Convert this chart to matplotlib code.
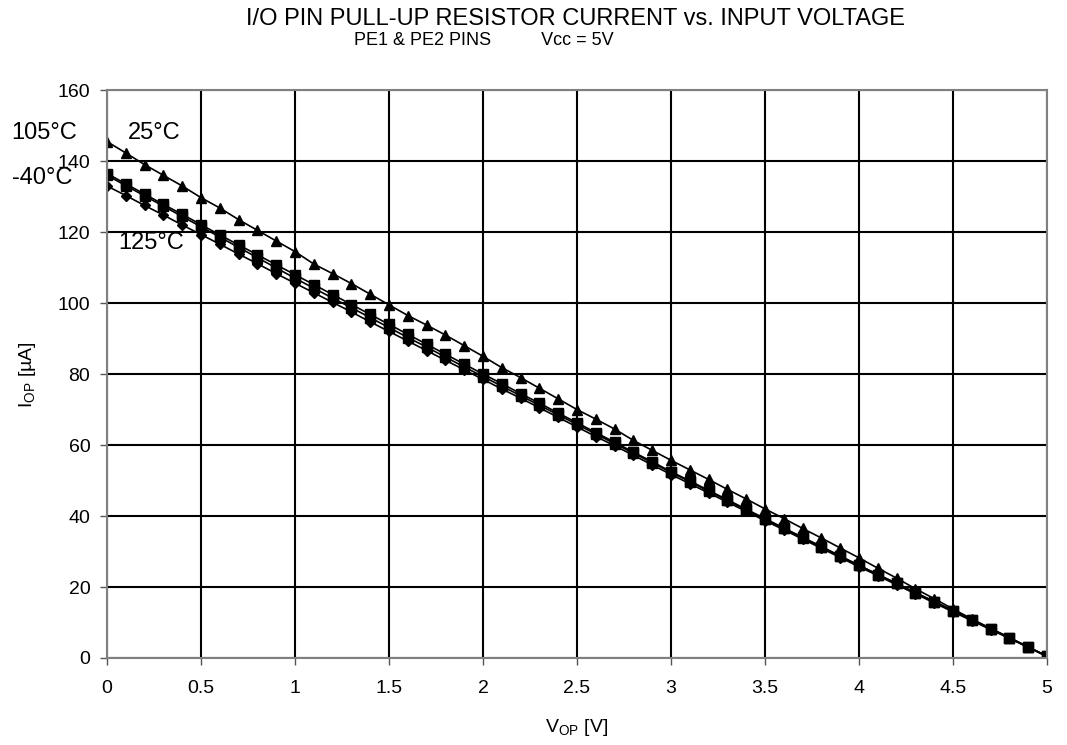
import matplotlib
matplotlib.use('Agg')
import matplotlib.pyplot as plt
import numpy as np

plt.rcParams['font.family'] = ['Liberation Sans', 'DejaVu Sans']
plt.rcParams['mathtext.fontset'] = 'custom'
plt.rcParams['mathtext.rm'] = 'Liberation Sans'

# input voltage, 0 .. 5 V in 0.1 V steps
vop = [round(i * 0.1, 1) for i in range(51)]

i_25 = [145.5, 142.3, 139.0, 136.0, 133.0, 129.7, 126.8, 123.5, 120.5, 117.5,
        114.5, 111.0, 108.3, 105.5, 102.5, 99.5, 96.5, 93.8, 91.0, 88.0,
        85.0, 81.8, 79.0, 76.0, 73.0, 70.0, 67.3, 64.5, 61.3, 58.5,
        55.7, 53.0, 50.3, 47.5, 44.8, 42.0, 39.3, 36.5, 33.8, 31.0,
        28.2, 25.3, 22.5, 19.5, 16.7, 13.8, 11.0, 8.3, 5.7, 3.0, 0.5]
i_105 = [136.5, 133.6, 130.7, 127.8, 125.0, 122.1, 119.2, 116.4, 113.6, 110.8,
         108.0, 105.2, 102.4, 99.6, 96.8, 94.0, 91.2, 88.4, 85.6, 82.8,
         80.0, 77.3, 74.5, 71.8, 69.0, 66.3, 63.5, 60.8, 58.0, 55.3,
         52.5, 49.9, 47.2, 44.6, 41.9, 39.3, 36.6, 34.0, 31.4, 28.7,
         26.1, 23.5, 21.0, 18.4, 15.9, 13.3, 10.8, 8.3, 5.7, 3.1, 0.5]
i_m40 = [136.0, 133.1, 130.2, 127.3, 124.4, 121.5, 118.6, 115.7, 112.8, 109.9,
         107.0, 104.2, 101.4, 98.7, 95.9, 93.1, 90.3, 87.6, 84.8, 82.0,
         79.3, 76.6, 73.9, 71.2, 68.5, 65.8, 63.1, 60.4, 57.7, 55.0,
         52.3, 49.7, 47.0, 44.4, 41.7, 39.1, 36.5, 33.9, 31.3, 28.7,
         26.1, 23.5, 21.0, 18.4, 15.9, 13.3, 10.8, 8.3, 5.7, 3.1, 0.5]
i_125 = [133.0, 130.3, 127.5, 124.8, 122.0, 119.3, 116.6, 113.8, 111.1, 108.3,
         105.6, 102.9, 100.2, 97.5, 94.7, 92.0, 89.3, 86.6, 83.9, 81.2,
         78.5, 75.8, 73.2, 70.5, 67.8, 65.1, 62.4, 59.8, 57.1, 54.4,
         51.7, 49.1, 46.5, 43.9, 41.3, 38.7, 36.1, 33.5, 30.9, 28.3,
         25.7, 23.2, 20.6, 18.1, 15.5, 13.0, 10.5, 8.0, 5.5, 3.0, 0.4]

xticks = [0, 0.5, 1, 1.5, 2, 2.5, 3, 3.5, 4, 4.5, 5]
xticklabels = ['0', '0.5', '1', '1.5', '2', '2.5', '3', '3.5', '4', '4.5', '5']
yticks = [0, 20, 40, 60, 80, 100, 120, 140, 160]

fig = plt.figure(figsize=(10.67, 7.45), dpi=100)
ax = fig.add_axes([0.1003, 0.1168, 0.881, 0.7622])

ax.plot(vop, i_125, color='black', lw=1.2, marker='D', ms=5.5)
ax.plot(vop, i_m40, color='black', lw=1.2, marker='s', ms=6.5)
ax.plot(vop, i_105, color='black', lw=1.2, marker='s', ms=6.5)
ax.plot(vop, i_25, color='black', lw=1.2, marker='^', ms=7.5)

ax.set_xlim(0, 5)
ax.set_ylim(0, 160)
ax.set_xticks(xticks)
ax.set_xticklabels(xticklabels)
ax.set_yticks(yticks)
ax.grid(True, color='black', lw=1.5)
ax.tick_params(labelsize=14, length=5, width=1, color='#555555')
ax.tick_params(axis='x', pad=11)
ax.tick_params(axis='y', pad=7)
for s in ax.spines.values():
    s.set_color('#808080')
    s.set_linewidth(1.5)
ax.set_axisbelow(True)

ax.set_xlabel(r'V$_{\mathrm{OP}}$ [V]', fontsize=14, labelpad=14)
ax.set_ylabel(r'I$_{\mathrm{OP}}$ [µA]', fontsize=14, labelpad=14)

fig.text(0.539, 0.975, 'I/O PIN PULL-UP RESISTOR CURRENT vs. INPUT VOLTAGE',
         ha='center', va='center', fontsize=17)
fig.text(0.453, 0.945, 'PE1 & PE2 PINS          Vcc = 5V',
         ha='center', va='center', fontsize=13)

ax.text(-0.335, 148, '105°C', ha='center', va='center', fontsize=17, clip_on=False)
ax.text(0.25, 148, '25°C', ha='center', va='center', fontsize=17)
ax.text(-0.346, 135.2, '-40°C', ha='center', va='center', fontsize=17, clip_on=False)
ax.text(0.234, 117, '125°C', ha='center', va='center', fontsize=17)

plt.savefig('out.png', dpi=100)
